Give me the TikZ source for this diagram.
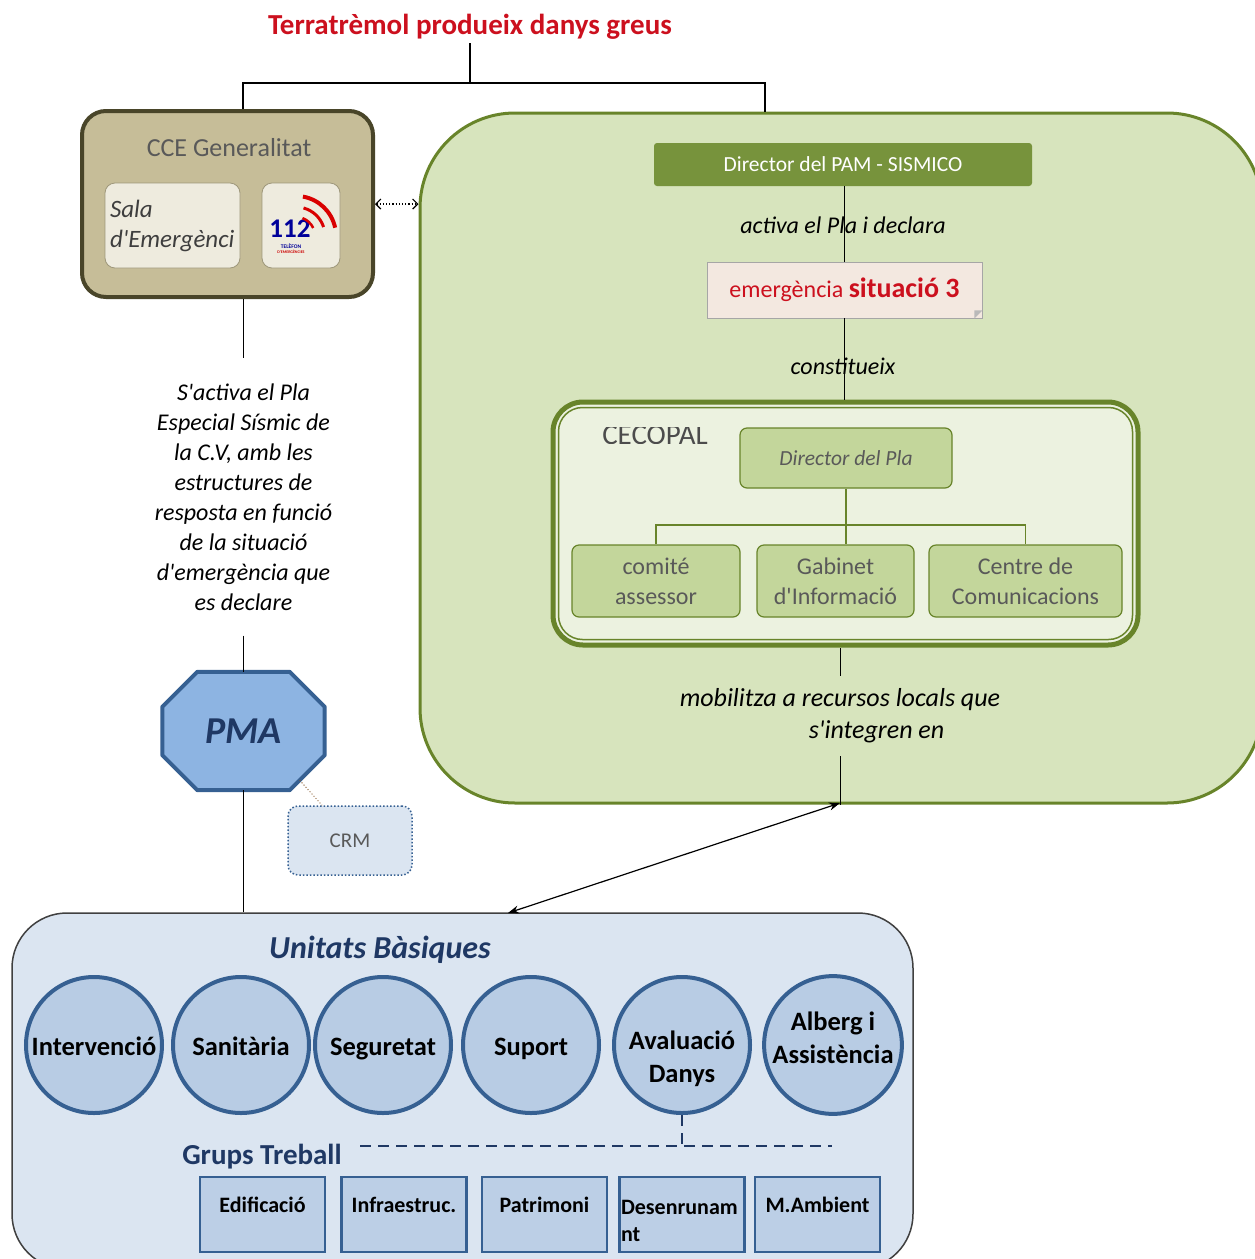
\documentclass[tikz,border=0pt]{standalone}
\usepackage{fontspec}
\setmainfont{Carlito}
\usepackage{tikz}
\usetikzlibrary{arrows}
\usetikzlibrary{arrows.meta}
\usetikzlibrary{calc,backgrounds,positioning}

\definecolor{quakered}{RGB}{204,16,30}
\definecolor{ccefill}{RGB}{198,189,152}
\definecolor{cceline}{RGB}{73,69,41}
\definecolor{ccelight}{RGB}{238,235,222}
\definecolor{pamfill}{RGB}{215,228,189}
\definecolor{pamline}{RGB}{104,132,42}
\definecolor{pamdark}{RGB}{119,147,60}
\definecolor{plafill}{RGB}{195,214,155}
\definecolor{cecofill}{RGB}{236,242,224}
\definecolor{situfill}{RGB}{243,232,224}
\definecolor{pmafill}{RGB}{141,180,226}
\definecolor{pmaline}{RGB}{54,96,146}
\definecolor{navy}{RGB}{31,56,100}
\definecolor{unitfill}{RGB}{219,229,241}
\definecolor{circfill}{RGB}{184,204,228}
\definecolor{grupfill}{RGB}{188,207,230}
\definecolor{textgray}{RGB}{89,89,89}

\newcommand{\fsz}[2]{\fontsize{#1}{#2}\selectfont}
\newcommand{\ap}{\textquotesingle}

\begin{document}
\begin{tikzpicture}[x=1pt, y=-1pt,
        link/.style={draw=black, line width=1.2pt},
        quake/.style={text=quakered, font=\fsz{29}{35}\bfseries},
        cce/.style={rectangle, draw=cceline, line width=4pt, fill=ccefill, rounded corners=24pt,
        minimum width=291pt, minimum height=186pt},
        ccebox/.style={rectangle, draw=ccefill!80!black, line width=0.8pt, fill=ccelight,
        rounded corners=10pt, minimum height=85pt},
        ccetitle/.style={text=textgray, font=\fsz{26}{30}},
        pam/.style={rectangle, draw=pamline, line width=3pt, fill=pamfill, rounded corners=95pt,
        minimum width=842pt, minimum height=690pt},
        pambar/.style={rectangle, fill=pamdark, rounded corners=3pt, text=white, font=\fsz{21.5}{25},
        minimum width=378pt, minimum height=43pt},
        say/.style={font=\fsz{24}{30}\itshape, align=center},
        situ/.style={rectangle, draw=gray!70, line width=0.8pt, fill=situfill, text=quakered,
        minimum width=275pt, minimum height=56pt, font=\fsz{24}{28}},
        cecopal/.style={rectangle, draw=pamline, line width=5pt, fill=cecofill, rounded corners=30pt,
        minimum width=585pt, minimum height=243pt},
        plabox/.style={rectangle, draw=pamline, line width=1.2pt, fill=plafill, rounded corners=7pt,
        text=textgray, minimum height=72pt, font=\fsz{24}{30}, align=center},
        treeline/.style={draw=pamline, line width=1.5pt},
        pma/.style={rectangle, minimum width=162pt, minimum height=118pt, inner sep=0pt,
        text=navy, font=\fsz{38}{40}\bfseries\itshape},
        pmaedge/.style={draw=pmaline, line width=4pt, fill=pmafill, line join=round},
        crm/.style={rectangle, draw=pmaline, dotted, line width=1.5pt, fill=unitfill, rounded corners=10pt,
        minimum width=124pt, minimum height=69pt, text=textgray, font=\fsz{21}{24}},
        unitats/.style={rectangle, draw=black!75, line width=1.5pt, fill=unitfill, rounded corners=55pt,
        minimum width=901pt, minimum height=356pt},
        unit/.style={circle, draw=pmaline, line width=4pt, fill=circfill, minimum size=136pt, inner sep=0pt,
        font=\fsz{26.5}{33}\bfseries, align=center},
        oneline/.style={text height=20pt, text depth=-8pt},
        grup/.style={rectangle, draw=pmaline, line width=2.5pt, fill=grupfill, minimum width=125pt,
        minimum height=75pt, font=\fsz{22}{27}\bfseries, text depth=19pt},
        grupdash/.style={draw=navy, line width=2.5pt, dash pattern=on 11pt off 7pt}]

    \clip (0,0) rectangle (1255,1259);

    \node[quake] (quake) at (470,27) {Terratrèmol produeix danys greus};
    \coordinate (split) at (470,83);

    \node[cce] (cce) at (227.5,204) {};
    \node[ccetitle] (ccelabel) at (229,148) {CCE Generalitat};
    \node[ccebox, minimum width=135pt, text width=125pt, align=left, text=textgray!70!black,
        font=\fsz{25}{30}\itshape] (sala) at (172.5,225.5) {Sala\\d\ap Emergènci};
    \node[ccebox, minimum width=78pt] (logo) at (301,225.5) {};
    \node[inner sep=0pt, text=blue!60!black, font=\fsz{27}{27}\bfseries] (num) at (290,229) {112};
    \node[inner sep=0pt, text=blue!60!black, font=\fsz{5.5}{6}\bfseries] (tel) at (291,246) {TELÈFON};
    \node[inner sep=0pt, text=red!80!black, font=\fsz{4}{5}\bfseries] (emtel) at (291,252) {D\ap EMERGÈNCIES};
    \coordinate (wave) at (296,236);
    \draw[red!85!black, line width=4pt] (wave) ++(80:40pt) arc[start angle=80, end angle=12, radius=40pt];
    \draw[red!85!black, line width=3pt] (wave) ++(75:29pt) arc[start angle=75, end angle=18, radius=29pt];
    \draw[red!85!black, line width=2.5pt] (wave) ++(70:19pt) arc[start angle=70, end angle=25, radius=19pt];

    \node[pam] (pam) at (841,458) {};
    \node[pambar] (director) at (843,164.5) {Director del PAM - SISMICO};
    \node[situ] (situ) at (844.5,290) {emergència {\fsz{28}{30}\bfseries situació 3}};
    \fill[gray!55] ([xshift=-8pt]situ.south east) -- ([yshift=8pt]situ.south east)
        -- ([shift={(-8pt,8pt)}]situ.south east) -- cycle;
    \node[cecopal] (cecopal) at (845.5,523.5) {};
    \draw[pamline, line width=1.5pt, rounded corners=24pt] ([shift={(8,8)}]cecopal.north west)
        rectangle ([shift={(-8,-8)}]cecopal.south east);
    \begin{scope}
        \clip (565,427) rectangle (735,443);
        \node[text=black!70, font=\fsz{29}{32}] (cecolabel) at (655,435) {CECOPAL};
    \end{scope}
    \node[plabox, minimum width=212pt, minimum height=60pt, font=\fsz{21.5}{25}\itshape] (pla) at (846,458) {Director del Pla};
    \node[plabox, minimum width=168pt] (comite) at (656,581) {comité\\assessor};
    \node[plabox, minimum width=157pt] (gabinet) at (835.5,581) {Gabinet\\d\ap Informació};
    \node[plabox, minimum width=193pt] (centre) at (1025.5,581) {Centre de\\Comunicacions};
    \coordinate (branch) at (845,525);
    \draw[treeline] (pla.south) -- (pla.south |- gabinet.north);
    \draw[treeline] (comite.north) |- (branch) -| (centre.north);

    \draw[link] ([xshift=15.5pt]cce.north) |- (split) -| ([xshift=-76pt]pam.north);
    \draw[link] (quake.south) -- (split);
    \draw[link, dotted, {Straight Barb[length=5pt]}-{Straight Barb[length=5pt]}] (cce.east) -- (cce.east -| pam.west);
    \draw[link] (situ.north |- director.south) -- (situ.north);
    \draw[link] (situ.south) -- (situ.south |- cecopal.north);
    \node[say] (activa) at (843,225) {activa el Pla i declara};
    \node[say] (constitueix) at (843,366) {constitueix};

    \node[say, font=\fsz{26}{32}\itshape, align=left, inner ysep=13pt] (mob) at (840,716)
        {mobilitza a recursos locals que\\\hspace*{129pt}s\ap integren en};
    \draw[link, line width=1pt] (mob.north) -- (mob.north |- cecopal.south);
    \draw[link, line width=1pt] (mob.south) -- (mob.south |- pam.south);

    \node[say, inner ysep=25pt] (narr) at (243.5,497) {S\ap activa el Pla\\Especial Sísmic de\\la C.V, amb les\\estructures de\\resposta en funció\\de la situació\\d\ap emergència que\\es declare};
    \draw[link] ([xshift=16pt]cce.south) -- ([xshift=16pt]cce.south |- narr.north);

    \node[pma] (pma) at (243.5,731) {PMA};
    \begin{scope}[on background layer]
        \draw[pmaedge] ([xshift=35pt]pma.north west) -- ([xshift=-35pt]pma.north east)
            -- ([yshift=-35pt]pma.north east) -- ([yshift=35pt]pma.south east)
            -- ([xshift=-35pt]pma.south east) -- ([xshift=35pt]pma.south west)
            -- ([yshift=35pt]pma.south west) -- ([yshift=-35pt]pma.north west) -- cycle;
    \end{scope}
    \draw[link] (narr.south) -- (pma.north);
    \node[crm] (crm) at (350,840.5) {CRM};
    \draw[draw=brown!70!black, dotted, line width=1pt] ([shift={(-25pt,10pt)}]pma.south east) -- ([xshift=-28pt]crm.north);

    \node[unitats] (unitats) at (462.5,1091) {};
    \draw[link] (pma.south) -- (pma.south |- unitats.north);
    \coordinate (mobfoot) at (840,803);
    \coordinate (unitsgate) at (508,913);
    \draw[link, {Stealth[length=11pt,width=8pt]}-{Stealth[length=11pt,width=8pt]}] (mobfoot) -- (unitsgate);

    \node[text=navy, font=\fsz{32}{34}\bfseries\itshape] (unitlabel) at (380,950) {Unitats Bàsiques};
    \node[unit, oneline] (interv) at (94,1045) {Intervenció};
    \node[unit, oneline] (sanit) at (241,1045) {Sanitària};
    \node[unit, oneline] (segur) at (383,1045) {Seguretat};
    \node[unit, oneline] (suport) at (531,1045) {Suport};
    \node[unit, text height=75pt, text depth=0pt] (aval) at (682,1045) {Avaluació\\Danys};
    \node[unit, text depth=14pt] (alberg) at (833,1045) {Alberg i\\Assistència};

    \coordinate (dashL) at (360,1146);
    \coordinate (dashR) at (832,1146);
    \draw[grupdash] (dashL) -- (dashR);
    \draw[grupdash] (aval.south) -- (aval.south |- dashL);
    \node[text=navy, font=\fsz{29}{31}\bfseries] (gruplabel) at (262,1157) {Grups Treball};

    \node[grup] (edif) at (262.5,1214.5) {Edificació};
    \node[grup] (infra) at (404,1214.5) {Infraestruc.};
    \node[grup] (patri) at (544.5,1214.5) {Patrimoni};
    \node[grup, text width=122pt, align=left, inner xsep=1pt, text depth=14pt] (desen) at (682,1214.5) {Desenrunam\\nt};
    \node[grup] (mamb) at (817.5,1214.5) {M.Ambient};
\end{tikzpicture}
\end{document}
